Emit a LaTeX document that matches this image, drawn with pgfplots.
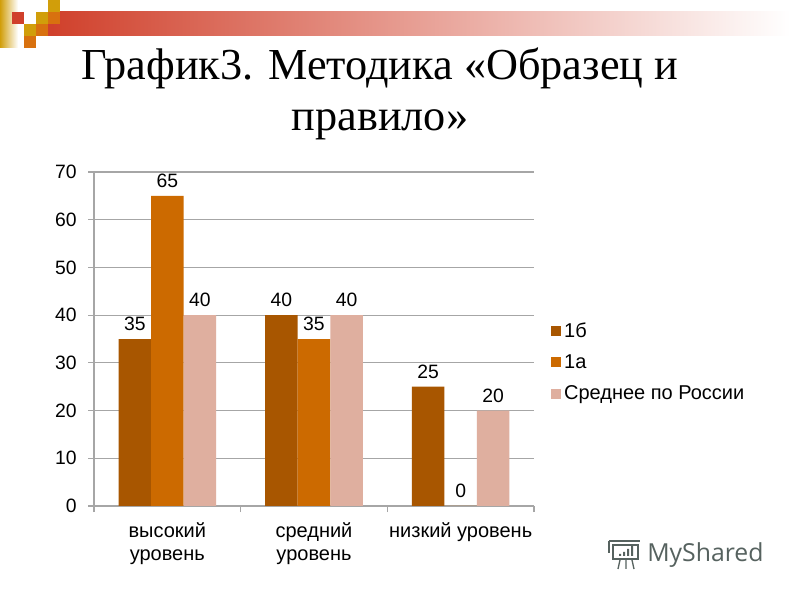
\documentclass[border=0pt]{standalone}
\usepackage{fontspec}
\setmainfont{Liberation Sans}
\newfontfamily\titlefont{Liberation Serif}
\newfontfamily\logofont{Open Sans}
\usepackage{pgfplots}
\pgfplotsset{compat=1.18}
\definecolor{barA}{HTML}{A85600}
\definecolor{barB}{HTML}{CC6A00}
\definecolor{barC}{HTML}{DFAF9F}
\definecolor{axisgrey}{HTML}{A6A6A6}
\definecolor{red1}{HTML}{D0402B}
\definecolor{gold1}{HTML}{D19E0A}
\definecolor{orange1}{HTML}{D8710F}
\definecolor{logo}{HTML}{56625F}

\begin{document}
\begin{tikzpicture}
\path[fill=white,use as bounding box] (0,0) rectangle (600pt,450pt);
% header band, coordinates in pixels of the reference
\begin{scope}[x=0.75pt,y=-0.75pt,shift={(0pt,450pt)}]
\shade[left color=red1,right color=white] (48,12) rectangle (790,36);
\shade[left color=gold1,right color=white] (0,0) rectangle (18,48);
\fill[red1] (12,12) rectangle (24,24);
\fill[gold1] (36,12) rectangle (48,24);
\fill[orange1] (48,12) rectangle (60,24);
\fill[gold1] (48,0) rectangle (60,12);
\fill[gold1] (24,24) rectangle (36,36);
\fill[orange1] (36,24) rectangle (48,36);
\fill[orange1] (24,36) rectangle (36,48);
\node[font=\titlefont\fontsize{33.2}{38}\selectfont,anchor=base] at (380,80) {График3. Методика «Образец и};
\node[font=\titlefont\fontsize{33.2}{38}\selectfont,anchor=base] at (380,131) {правило»};
% logo
\draw[logo,line width=1.2pt] (613,545) rectangle (638,559);
\draw[logo,line width=1.2pt] (609,541) -- (640,541);
\draw[logo,line width=1pt] (609,541) -- (609,553);
\fill[logo] (619,554) rectangle (621,556) (623,552) rectangle (625,556) (627,549) rectangle (629,556) (631,546) rectangle (633,556);
\draw[logo,line width=1pt] (620,560) -- (618,569) (626,560) -- (626,569) (632,560) -- (634,569);
\node[font=\logofont\fontsize{18.6}{21}\selectfont,text=logo,anchor=west,inner sep=0pt] at (647,555) {MyShared};
\end{scope}
\begin{axis}[
at={(70.5pt,70.5pt)},anchor=south west,
scale only axis,width=330pt,height=250.5pt,
ybar=0pt,bar width=24.4pt,
xmin=-0.5,xmax=2.5,ymin=0,ymax=70,
ytick={0,10,...,70},
xtick={-0.5,0.5,1.5,2.5},xticklabels={},
extra x ticks={0,1,2},
extra x tick labels={{высокий\\уровень},{средний\\уровень},{низкий уровень}},
every extra x tick/.style={major tick length=0pt},
major tick length=4.5pt,
tick align=outside,
tick pos=left,
ymajorgrids,
grid style={axisgrey,line width=0.8pt},
axis line style={axisgrey,line width=0.8pt},
axis x line*=bottom,axis y line*=left,
tick style={axisgrey,line width=0.8pt},
/pgf/number format/assume math mode=true,
y tick label style={font=\fontsize{14.5}{17.25}\selectfont,text=black,xshift=-5pt},
x tick label style={font=\fontsize{15}{17.25}\selectfont,text=black,align=center,anchor=north,yshift=-9pt},
nodes near coords,
nodes near coords style={font=\fontsize{14.5}{16}\selectfont,text=black,yshift=2.5pt},
legend style={at={(1.03,0.431)},anchor=west,draw=none,fill=none,
 font=\fontsize{15}{16}\selectfont,row sep=7.5pt,
 /tikz/every even column/.append style={column sep=0pt}},
legend cell align=left,
legend image code/.code={\fill[#1] (0pt,-3.75pt) rectangle (7.5pt,3.75pt);},
]
\addplot[fill=barA,draw=none] coordinates {(0,35) (1,40) (2,25)};
\addplot[fill=barB,draw=none] coordinates {(0,65) (1,35) (2,0)};
\addplot[fill=barC,draw=none] coordinates {(0,40) (1,40) (2,20)};
\legend{1б,1а,Среднее по России}
\end{axis}
\end{tikzpicture}
\end{document}
